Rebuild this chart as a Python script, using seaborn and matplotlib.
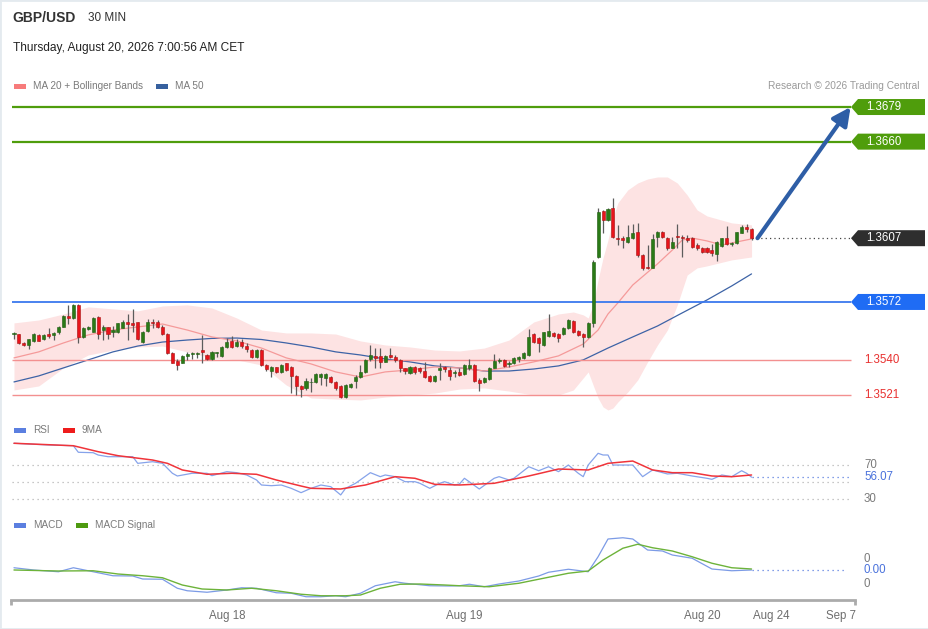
import matplotlib
matplotlib.use("Agg")
import matplotlib.pyplot as plt
from matplotlib.patches import Polygon, Rectangle
import numpy as np
import pandas as pd
import seaborn as sns

# GBP/USD 30 min candles (index 0 = first candle on the left)
opens = [1.35544, 1.35542, 1.35493, 1.35484, 1.35505, 1.35538, 1.35516, 1.35542, 1.35538, 1.35553,
         1.35584, 1.35645, 1.35630, 1.35703, 1.35529, 1.35570, 1.35557, 1.35637, 1.35566, 1.35580,
         1.35557, 1.35557, 1.35579, 1.35608, 1.35602, 1.35608, 1.35502, 1.35560, 1.35612, 1.35612,
         1.35585, 1.35544, 1.35442, 1.35398, 1.35387, 1.35424, 1.35433, 1.35436, 1.35456, 1.35429,
         1.35407, 1.35438, 1.35425, 1.35471, 1.35508, 1.35478, 1.35499, 1.35478, 1.35456, 1.35416,
         1.35456, 1.35374, 1.35341, 1.35361, 1.35338, 1.35383, 1.35361, 1.35314, 1.35259, 1.35246,
         1.35279, 1.35283, 1.35310, 1.35305, 1.35310, 1.35283, 1.35261, 1.35197, 1.35255, 1.35288,
         1.35310, 1.35334, 1.35407, 1.35424, 1.35424, 1.35392, 1.35429, 1.35418, 1.35402, 1.35356,
         1.35328, 1.35365, 1.35356, 1.35341, 1.35316, 1.35288, 1.35347, 1.35361, 1.35347, 1.35332,
         1.35338, 1.35325, 1.35356, 1.35374, 1.35292, 1.35283, 1.35295, 1.35360, 1.35396, 1.35402,
         1.35380, 1.35383, 1.35407, 1.35411, 1.35429, 1.35543, 1.35524, 1.35484, 1.35535, 1.35548,
         1.35544, 1.35544, 1.35575, 1.35618, 1.35563, 1.35543, 1.35526, 1.35603, 1.35969, 1.36220,
         1.36170, 1.36234, 1.36073, 1.36069, 1.36051, 1.36069, 1.36102, 1.35978, 1.35914, 1.35908,
         1.36079, 1.36106, 1.36069, 1.36018, 1.36084, 1.36079, 1.36073, 1.36073, 1.36033, 1.36018,
         1.36015, 1.36005, 1.35982, 1.36029, 1.36073, 1.36036, 1.36042, 1.36101, 1.36134, 1.36121]
highs = [1.35553, 1.35546, 1.35500, 1.35518, 1.35549, 1.35544, 1.35542, 1.35575, 1.35557, 1.35590,
         1.35648, 1.35703, 1.35707, 1.35707, 1.35580, 1.35588, 1.35637, 1.35641, 1.35593, 1.35584,
         1.35590, 1.35606, 1.35619, 1.35654, 1.35679, 1.35612, 1.35560, 1.35626, 1.35626, 1.35623,
         1.35594, 1.35548, 1.35446, 1.35405, 1.35429, 1.35447, 1.35444, 1.35447, 1.35539, 1.35435,
         1.35453, 1.35447, 1.35478, 1.35521, 1.35533, 1.35515, 1.35515, 1.35493, 1.35460, 1.35460,
         1.35460, 1.35380, 1.35369, 1.35365, 1.35380, 1.35387, 1.35369, 1.35319, 1.35266, 1.35301,
         1.35301, 1.35328, 1.35328, 1.35328, 1.35316, 1.35288, 1.35264, 1.35270, 1.35273, 1.35319,
         1.35374, 1.35407, 1.35484, 1.35466, 1.35469, 1.35429, 1.35466, 1.35429, 1.35405, 1.35359,
         1.35370, 1.35370, 1.35365, 1.35389, 1.35319, 1.35319, 1.35383, 1.35369, 1.35365, 1.35347,
         1.35356, 1.35378, 1.35405, 1.35378, 1.35301, 1.35310, 1.35365, 1.35433, 1.35411, 1.35407,
         1.35396, 1.35420, 1.35424, 1.35447, 1.35570, 1.35548, 1.35530, 1.35557, 1.35654, 1.35557,
         1.35552, 1.35581, 1.35625, 1.35621, 1.35566, 1.35548, 1.35612, 1.35951, 1.36234, 1.36225,
         1.36234, 1.36293, 1.36143, 1.36084, 1.36143, 1.36146, 1.36152, 1.35982, 1.36033, 1.36091,
         1.36110, 1.36110, 1.36079, 1.36079, 1.36148, 1.36088, 1.36088, 1.36079, 1.36042, 1.36024,
         1.36024, 1.36036, 1.36055, 1.36073, 1.36139, 1.36051, 1.36106, 1.36143, 1.36146, 1.36124]
lows = [1.35515, 1.35489, 1.35478, 1.35460, 1.35500, 1.35504, 1.35509, 1.35520, 1.35509, 1.35546,
        1.35580, 1.35597, 1.35626, 1.35493, 1.35520, 1.35564, 1.35553, 1.35515, 1.35511, 1.35515,
        1.35529, 1.35551, 1.35575, 1.35511, 1.35557, 1.35511, 1.35493, 1.35553, 1.35575, 1.35575,
        1.35539, 1.35435, 1.35383, 1.35347, 1.35383, 1.35402, 1.35405, 1.35411, 1.35387, 1.35402,
        1.35402, 1.35420, 1.35420, 1.35467, 1.35469, 1.35471, 1.35466, 1.35447, 1.35411, 1.35411,
        1.35371, 1.35343, 1.35310, 1.35332, 1.35332, 1.35341, 1.35219, 1.35209, 1.35197, 1.35237,
        1.35228, 1.35273, 1.35264, 1.35261, 1.35273, 1.35237, 1.35195, 1.35191, 1.35246, 1.35246,
        1.35301, 1.35328, 1.35396, 1.35356, 1.35356, 1.35389, 1.35414, 1.35392, 1.35338, 1.35323,
        1.35323, 1.35323, 1.35328, 1.35305, 1.35283, 1.35283, 1.35292, 1.35338, 1.35292, 1.35306,
        1.35314, 1.35319, 1.35347, 1.35283, 1.35233, 1.35277, 1.35292, 1.35356, 1.35383, 1.35365,
        1.35365, 1.35380, 1.35392, 1.35405, 1.35425, 1.35497, 1.35444, 1.35480, 1.35530, 1.35526,
        1.35502, 1.35539, 1.35570, 1.35548, 1.35533, 1.35471, 1.35521, 1.35585, 1.35963, 1.36097,
        1.36165, 1.36073, 1.36033, 1.36018, 1.36042, 1.36064, 1.35969, 1.35896, 1.35901, 1.35905,
        1.36024, 1.36069, 1.36005, 1.36015, 1.36015, 1.35969, 1.36051, 1.36018, 1.36005, 1.35987,
        1.35987, 1.35974, 1.35945, 1.36024, 1.36033, 1.36029, 1.36038, 1.36097, 1.36102, 1.36060]
closes = [1.35548, 1.35493, 1.35484, 1.35515, 1.35542, 1.35507, 1.35537, 1.35533, 1.35551, 1.35580,
          1.35645, 1.35630, 1.35703, 1.35529, 1.35575, 1.35584, 1.35634, 1.35542, 1.35580, 1.35542,
          1.35566, 1.35602, 1.35612, 1.35597, 1.35595, 1.35515, 1.35553, 1.35612, 1.35602, 1.35582,
          1.35544, 1.35438, 1.35387, 1.35374, 1.35424, 1.35433, 1.35438, 1.35440, 1.35444, 1.35405,
          1.35447, 1.35444, 1.35475, 1.35499, 1.35475, 1.35499, 1.35478, 1.35460, 1.35420, 1.35456,
          1.35374, 1.35350, 1.35365, 1.35338, 1.35374, 1.35347, 1.35314, 1.35259, 1.35244, 1.35286,
          1.35283, 1.35323, 1.35323, 1.35323, 1.35283, 1.35246, 1.35200, 1.35264, 1.35268, 1.35310,
          1.35334, 1.35402, 1.35429, 1.35414, 1.35392, 1.35424, 1.35420, 1.35402, 1.35356, 1.35343,
          1.35365, 1.35334, 1.35341, 1.35310, 1.35288, 1.35316, 1.35356, 1.35350, 1.35314, 1.35338,
          1.35319, 1.35374, 1.35374, 1.35286, 1.35277, 1.35305, 1.35360, 1.35396, 1.35402, 1.35369,
          1.35387, 1.35414, 1.35416, 1.35438, 1.35530, 1.35502, 1.35493, 1.35553, 1.35561, 1.35533,
          1.35521, 1.35575, 1.35621, 1.35557, 1.35539, 1.35530, 1.35603, 1.35941, 1.36216, 1.36170,
          1.36231, 1.36079, 1.36064, 1.36060, 1.36079, 1.36097, 1.35978, 1.35905, 1.35908, 1.36066,
          1.36106, 1.36079, 1.36015, 1.36051, 1.36075, 1.36073, 1.36060, 1.36024, 1.36015, 1.35996,
          1.35996, 1.35987, 1.36051, 1.36069, 1.36038, 1.36042, 1.36102, 1.36134, 1.36121, 1.36069]

# overlays (read at a few candle indices)
band_idx = [0, 5, 10, 15, 20, 25, 30, 35, 40, 45, 50, 55, 60, 65, 70, 75, 80, 85, 90, 95, 100, 105,
            110, 113, 115, 116, 117, 118, 119, 120, 121, 122, 124, 126, 128, 130, 132, 134, 136, 138,
            140, 145, 149]
band_upper = [1.35605, 1.35621, 1.35654, 1.35693, 1.35682, 1.35671, 1.35698, 1.35704, 1.35687, 1.35632,
              1.35566, 1.35550, 1.35550, 1.35544, 1.35506, 1.35484, 1.35473, 1.35456, 1.35451, 1.35467,
              1.35511, 1.35610, 1.35654, 1.35665, 1.35649, 1.35632, 1.35704, 1.35841, 1.35962, 1.36060,
              1.36181, 1.36264, 1.36335, 1.36373, 1.36395, 1.36406, 1.36406, 1.36373, 1.36307, 1.36225,
              1.36192, 1.36154, 1.36143]
band_lower = [1.35237, 1.35259, 1.35358, 1.35429, 1.35456, 1.35473, 1.35478, 1.35446, 1.35413, 1.35402,
              1.35374, 1.35264, 1.35193, 1.35187, 1.35182, 1.35198, 1.35209, 1.35220, 1.35242, 1.35248,
              1.35231, 1.35209, 1.35209, 1.35237, 1.35303, 1.35336, 1.35264, 1.35193, 1.35144, 1.35127,
              1.35138, 1.35171, 1.35226, 1.35292, 1.35391, 1.35484, 1.35566, 1.35704, 1.35868, 1.35907,
              1.35918, 1.35951, 1.35967]
ma20_idx = [0, 5, 10, 15, 20, 25, 30, 35, 40, 45, 50, 55, 60, 65, 70, 75, 80, 85, 90, 95, 100, 105,
            110, 115, 118, 120, 122, 125, 130, 133, 135, 137, 140, 143, 145, 149]
ma20 = [1.35413, 1.35446, 1.35495, 1.35539, 1.35566, 1.35583, 1.35599, 1.35566, 1.35528, 1.35506,
        1.35467, 1.35413, 1.35380, 1.35336, 1.35308, 1.35336, 1.35347, 1.35363, 1.35358, 1.35341,
        1.35363, 1.35391, 1.35424, 1.35489, 1.35566, 1.35654, 1.35715, 1.35813, 1.35929, 1.36005,
        1.36060, 1.36071, 1.36055, 1.36033, 1.36044, 1.36066]
ma50_idx = [0, 5, 10, 15, 20, 25, 30, 35, 40, 45, 50, 55, 60, 65, 70, 75, 80, 85, 90, 95, 100, 105,
            110, 115, 120, 125, 130, 135, 140, 145, 149]
ma50 = [1.35281, 1.35314, 1.35358, 1.35402, 1.35446, 1.35478, 1.35500, 1.35511, 1.35520, 1.35522,
        1.35514, 1.35495, 1.35473, 1.35446, 1.35429, 1.35407, 1.35391, 1.35369, 1.35358, 1.35341,
        1.35341, 1.35352, 1.35369, 1.35402, 1.35467, 1.35528, 1.35588, 1.35660, 1.35731, 1.35808,
        1.35874]

# key levels
resistances = [1.3679, 1.3660]
pivot = 1.3572
supports = [1.3540, 1.3521]
last_price = 1.3607

# RSI + 9MA
rsi_idx = [0, 4, 7, 12, 13, 16, 17, 19, 24, 25, 28, 30, 32, 33, 36, 39, 40, 43, 45, 47, 49, 50, 52, 54,
           56, 58, 60, 62, 64, 66, 67, 69, 72, 74, 75, 77, 79, 81, 82, 84, 86, 87, 89, 90, 91, 94, 97,
           98, 100, 101, 104, 106, 108, 110, 112, 114, 115, 116, 118, 119, 120, 121, 125, 127, 129,
           132, 134, 137, 140, 141, 143, 145, 147, 148, 149]
rsi = [95.9, 94.7, 93.9, 93.0, 85.3, 84.8, 82.1, 80.1, 80.1, 72.3, 74.2, 72.3, 60.6, 57.4, 60.6, 60.6,
       57.8, 62.5, 61.3, 58.6, 52.7, 46.8, 46.0, 46.8, 42.9, 37.8, 42.9, 46.8, 44.8, 35.1, 42.9, 48.8,
       61.3, 56.6, 58.6, 56.6, 50.7, 50.7, 48.8, 42.9, 48.8, 50.7, 46.8, 48.0, 54.7, 42.1, 54.7, 56.6,
       52.7, 54.7, 68.3, 63.6, 68.3, 62.5, 70.3, 60.6, 56.6, 70.3, 84.1, 82.1, 82.1, 70.3, 70.3, 56.6,
       64.5, 59.8, 60.6, 57.4, 54.7, 53.5, 58.6, 56.6, 63.6, 60.6, 56.07]
rsi_ma_idx = [0, 12, 17, 21, 28, 31, 34, 39, 44, 49, 53, 58, 60, 66, 71, 77, 81, 85, 90, 97, 104, 110,
              116, 120, 125, 129, 133, 137, 141, 145, 149]
rsi_ma = [95.9, 93.0, 86.0, 81.3, 76.2, 72.3, 64.5, 59.4, 60.6, 59.4, 52.7, 45.6, 42.9, 42.1, 46.8,
          56.6, 54.7, 47.6, 46.8, 48.8, 57.4, 65.6, 64.5, 72.3, 75.0, 64.5, 61.3, 61.3, 57.4, 56.6, 58.6]
rsi_levels = [70, 50, 30]

# MACD + signal
macd_idx = [0, 4, 9, 12, 15, 17, 20, 24, 26, 30, 33, 35, 39, 43, 46, 49, 53, 56, 59, 62, 65, 67, 70,
            73, 77, 79, 84, 88, 90, 92, 95, 98, 102, 106, 108, 112, 116, 118, 120, 123, 125, 128, 131,
            133, 137, 141, 145, 149]
macd = [0.00030, 0.00012, -0.00002, 0.00030, 0.00006, -0.00010, -0.00034, -0.00036, -0.00060, -0.00062,
        -0.00134, -0.00154, -0.00166, -0.00148, -0.00130, -0.00134, -0.00170, -0.00174, -0.00202, -0.00202,
        -0.00194, -0.00202, -0.00174, -0.00114, -0.00082, -0.00094, -0.00114, -0.00116, -0.00114, -0.00102,
        -0.00122, -0.00100, -0.00076, -0.00036, -0.00006, 0.00018, -0.00002, 0.00118, 0.00260, 0.00270,
        0.00260, 0.00172, 0.00164, 0.00132, 0.00106, 0.00020, 0.00006, 0.00012]
signal_idx = [0, 9, 16, 21, 26, 30, 34, 38, 43, 48, 53, 58, 62, 67, 70, 74, 78, 82, 87, 90, 96, 102,
              107, 112, 116, 119, 123, 126, 129, 133, 137, 141, 145, 149]
signal = [0.00012, 0.00004, 0.00006, -0.00020, -0.00034, -0.00050, -0.00108, -0.00140, -0.00148, -0.00134,
          -0.00154, -0.00182, -0.00194, -0.00194, -0.00188, -0.00134, -0.00102, -0.00100, -0.00108, -0.00114,
          -0.00122, -0.00094, -0.00054, -0.00014, 0.00004, 0.00092, 0.00186, 0.00218, 0.00190, 0.00164,
          0.00118, 0.00066, 0.00030, 0.00020]
macd_ticks = [0.001, -0.001]

day_ticks = [43, 91, 139, 153, 167]
day_labels = ["Aug 18", "Aug 19", "Aug 20", "Aug 24", "Sep 7"]

sns.set_theme(style="white")
plt.rcParams["font.family"] = ["Liberation Sans", "DejaVu Sans"]

W, H = 929, 629
fig = plt.figure(figsize=(W / 100, H / 100), dpi=100)
fig.patch.set_facecolor("white")


def add_ax(left, top, right, bottom):
    return fig.add_axes([left / W, 1 - bottom / H, (right - left) / W, (bottom - top) / H])


def fig_y(ax, value):
    # figure pixel row (from the top) of a data value
    return H - ax.transData.transform((0, value))[1]


def tag(ax, value, text, color):
    y = fig_y(ax, value)
    pts = [(851, y), (858, y - 8), (925, y - 8), (925, y + 8), (858, y + 8)]
    fig.add_artist(Polygon([(px / W, 1 - py / H) for px, py in pts], closed=True,
                           transform=fig.transFigure, facecolor=color, edgecolor="none"))
    fig.text(866 / W, 1 - y / H, text, color="white", fontsize=8.3, va="center")


def legend_key(x, y, color):
    fig.add_artist(Rectangle((x / W, 1 - (y + 3) / H), 12 / W, 5 / H, transform=fig.transFigure,
                             facecolor=color, edgecolor="none"))


XMIN, XMAX = -0.6, 169.9
LINE_END = 169.0

candles = pd.DataFrame({"o": opens, "h": highs, "l": lows, "c": closes})
candles["i"] = np.arange(len(candles))
up = candles["c"] >= candles["o"]

# ---------------- main price panel ----------------
ax = add_ax(11, 95, 855, 412)
ax.set_xlim(XMIN, XMAX)
ax.set_ylim(1.35116, 1.36856)

ax.fill_between(band_idx, band_lower, band_upper, color="#fde3e3", lw=0, zorder=0)
sns.lineplot(x=ma50_idx, y=ma50, ax=ax, color="#3d63a6", lw=0.9, zorder=1)
sns.lineplot(x=ma20_idx, y=ma20, ax=ax, color="#f59a9a", lw=0.9, zorder=1)

ax.hlines(resistances, -0.4, LINE_END, colors="#4f9d0c", lw=1.6, zorder=1)
ax.hlines(pivot, -0.4, LINE_END, colors="#3a78ee", lw=1.3, zorder=1)
ax.hlines(supports, -0.4, LINE_END, colors="#f39090", lw=1.0, zorder=1)

ax.vlines(candles["i"], candles["l"], candles["h"], colors="#5c5c5c", lw=0.9, zorder=2)
body = (candles["c"] - candles["o"]).abs().clip(lower=0.00004)
ax.bar(candles["i"], body, bottom=candles[["o", "c"]].min(axis=1), width=0.62,
       color=np.where(up, "#2a7a17", "#e8141b"), edgecolor=np.where(up, "#1f5e10", "#a81010"),
       linewidth=0.4, zorder=3)

ax.hlines(last_price, len(closes) - 1, LINE_END, colors="#444444", lw=0.9,
          linestyles=(0, (1, 2.5)), zorder=1)
ax.annotate("", xy=(LINE_END, resistances[0]), xytext=(len(closes) + 0.2, last_price),
            arrowprops=dict(arrowstyle="-|>,head_length=0.9,head_width=0.45", color="#2e5ea6",
                            lw=3, shrinkA=0, shrinkB=0), zorder=4)
ax.axis("off")

for lvl in resistances:
    tag(ax, lvl, f"{lvl:.4f}", "#4f9d0c")
tag(ax, last_price, f"{last_price:.4f}", "#2e2e2e")
tag(ax, pivot, f"{pivot:.4f}", "#1f6cf4")
for lvl in supports:
    fig.text(864 / W, 1 - fig_y(ax, lvl) / H, f"{lvl:.4f}", color="#e8302f", fontsize=8.3, va="center")

# ---------------- RSI panel ----------------
ax_rsi = add_ax(11, 438, 855, 506)
ax_rsi.set_xlim(XMIN, XMAX)
ax_rsi.set_ylim(22.1, 102.1)
ax_rsi.hlines(rsi_levels, -0.4, 169.3, colors="#b5b5b5", lw=0.9, linestyles=(0, (1, 3)))
sns.lineplot(x=rsi_idx, y=rsi, ax=ax_rsi, color="#86a3ea", lw=0.9)
sns.lineplot(x=rsi_ma_idx, y=rsi_ma, ax=ax_rsi, color="#f0343a", lw=1.1)
ax_rsi.hlines(rsi[-1], rsi_idx[-1], 169.3, colors="#5b7fe0", lw=0.9, linestyles=(0, (1, 3)))
ax_rsi.axis("off")
for lvl in (70, 30):
    fig.text(864 / W, 1 - fig_y(ax_rsi, lvl) / H, str(lvl), color="#7a7a7a", fontsize=8.3, va="center")
fig.text(864 / W, 1 - fig_y(ax_rsi, rsi[-1]) / H, f"{rsi[-1]:.2f}", color="#4a72dc", fontsize=8.3,
         va="center")

# ---------------- MACD panel ----------------
ax_m = add_ax(11, 530, 855, 600)
ax_m.set_xlim(XMIN, XMAX)
ax_m.set_ylim(-0.00228, 0.00332)
sns.lineplot(x=macd_idx, y=macd, ax=ax_m, color="#7c9be6", lw=0.9)
sns.lineplot(x=signal_idx, y=signal, ax=ax_m, color="#6db33a", lw=1.0)
ax_m.hlines(macd[-1], macd_idx[-1], 168.0, colors="#5b7fe0", lw=0.9, linestyles=(0, (1, 3)))
for side in ("top", "left", "right"):
    ax_m.spines[side].set_visible(False)
ax_m.spines["bottom"].set_color("#ababab")
ax_m.spines["bottom"].set_linewidth(2)
ax_m.set_yticks([])
ax_m.set_xticks(day_ticks, day_labels)
ax_m.tick_params(axis="x", length=0, pad=7, labelsize=8.3, labelcolor="#6e6e6e")
for xa in (0, 1):
    ax_m.plot([xa, xa], [0, -0.075], transform=ax_m.transAxes, color="#ababab", lw=2,
              clip_on=False, solid_capstyle="butt")
ax_m.set_facecolor("none")
for v in macd_ticks:
    fig.text(864 / W, 1 - fig_y(ax_m, v) / H, str(round(v)), color="#7a7a7a", fontsize=8.3,
             va="center")
fig.text(864 / W, 1 - fig_y(ax_m, macd[-1]) / H, f"{macd[-1]:.2f}", color="#4a72dc", fontsize=8.3,
         va="center")

# ---------------- header, legends ----------------
fig.text(12 / W, 1 - 18 / H, "GBP/USD", fontsize=10, fontweight="bold", color="#333333", va="center")
fig.text(88 / W, 1 - 18 / H, "30 MIN", fontsize=8.5, color="#333333", va="center")
fig.text(13 / W, 1 - 48 / H, "Thursday, August 20, 2026 7:00:56 AM CET", fontsize=8.6,
         color="#222222", va="center")
fig.text(920 / W, 1 - 86 / H, "Research \u00a9 2026 Trading Central", fontsize=7.3, color="#9a9a9a",
         va="center", ha="right")

legend_key(14, 86, "#f77b7b")
fig.text(33 / W, 1 - 86 / H, "MA 20 + Bollinger Bands", fontsize=7.2, color="#7a7a7a", va="center")
legend_key(156, 86, "#36609e")
fig.text(175 / W, 1 - 86 / H, "MA 50", fontsize=7.2, color="#7a7a7a", va="center")

legend_key(14, 430, "#5b7fe0")
fig.text(33 / W, 1 - 430 / H, "RSI", fontsize=7.2, color="#7a7a7a", va="center")
legend_key(63, 430, "#ee1c1c")
fig.text(82 / W, 1 - 430 / H, "9MA", fontsize=7.2, color="#7a7a7a", va="center")

legend_key(14, 525, "#5b7fe0")
fig.text(33 / W, 1 - 525 / H, "MACD", fontsize=7.2, color="#7a7a7a", va="center")
legend_key(76, 525, "#4d9a10")
fig.text(95 / W, 1 - 525 / H, "MACD Signal", fontsize=7.2, color="#7a7a7a", va="center")

fig.add_artist(Rectangle((0, 0), 1, 1, transform=fig.transFigure, fill=False,
                         edgecolor="#e4eaef", lw=2))

fig.savefig("out.png", dpi=100, facecolor="white")
